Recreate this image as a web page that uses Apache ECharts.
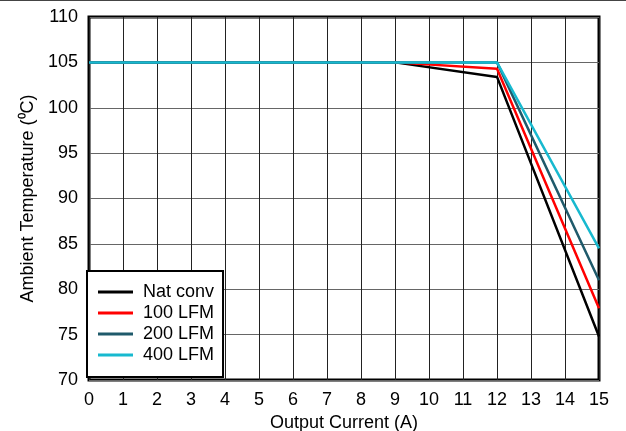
<!DOCTYPE html>
<html><head><meta charset="utf-8">
<script src="https://cdn.jsdelivr.net/npm/echarts@6/dist/echarts.min.js"></script>
<style>html,body{margin:0;padding:0;background:#fff}#c{width:626px;height:431px}</style>
</head><body><div id="c"></div>
<script>
const xTicks = [0,1,2,3,4,5,6,7,8,9,10,11,12,13,14,15];
const seriesNames = ['Nat conv','100 LFM','200 LFM','400 LFM'];
const natConv = [[0,105],[9,105],[12,103.4],[15,74.8]];
const lfm100 = [[0,105],[9,105],[12,104.3],[15,77.9]];
const lfm200 = [[0,105],[12,105],[15,81.0]];
const lfm400 = [[0,105],[12,105],[15,84.5]];
const colors = ['#000000','#ff0000','#1f5a6b','#17b9cf'];
const font = 'Liberation Sans, Arial, sans-serif';
const chart = echarts.init(document.getElementById('c'));
const datas = [natConv, lfm100, lfm200, lfm400];
chart.setOption({
  animation:false,
  graphic:[{type:'rect',shape:{x:0,y:0,width:626,height:1},style:{fill:'#444'}}],
  grid:{left:89,right:27,top:17,bottom:51,show:true,borderColor:'#000',borderWidth:3,backgroundColor:'#fff',
    containLabel:false,outerBoundsMode:'none'},
  xAxis:{type:'value',min:0,max:15,interval:1,
    name:'Output Current (A)',nameLocation:'middle',nameGap:29,
    nameTextStyle:{fontFamily:font,fontSize:18,color:'#000'},
    axisLine:{show:false},axisTick:{show:false},
    axisLabel:{fontFamily:font,fontSize:18,color:'#000',margin:11,
      formatter:v=>xTicks.includes(v)?String(v):''},
    splitLine:{lineStyle:{color:'#222',width:1}}},
  yAxis:{type:'value',min:70,max:110,interval:5,
    name:'Ambient Temperature (⁰C)',nameLocation:'middle',nameGap:48,
    nameTextStyle:{fontFamily:font,fontSize:18,color:'#000'},
    axisLine:{show:false},axisTick:{show:false},
    axisLabel:{fontFamily:font,fontSize:18,color:'#000',margin:11},
    splitLine:{lineStyle:{color:'#666',width:1}}},
  legend:{orient:'vertical',left:87,top:271,data:seriesNames,
    backgroundColor:'#fff',borderColor:'#000',borderWidth:2,
    padding:[12,9,13,11],itemGap:3,itemWidth:35,itemHeight:3,icon:'rect',
    textStyle:{fontFamily:font,fontSize:18,color:'#000',padding:[0,0,0,5]}},
  series:datas.map((d,i)=>({type:'line',name:seriesNames[i],data:d,showSymbol:false,
    color:colors[i],lineStyle:{width:2.5,color:colors[i]},z:2+i}))
});
</script></body></html>
